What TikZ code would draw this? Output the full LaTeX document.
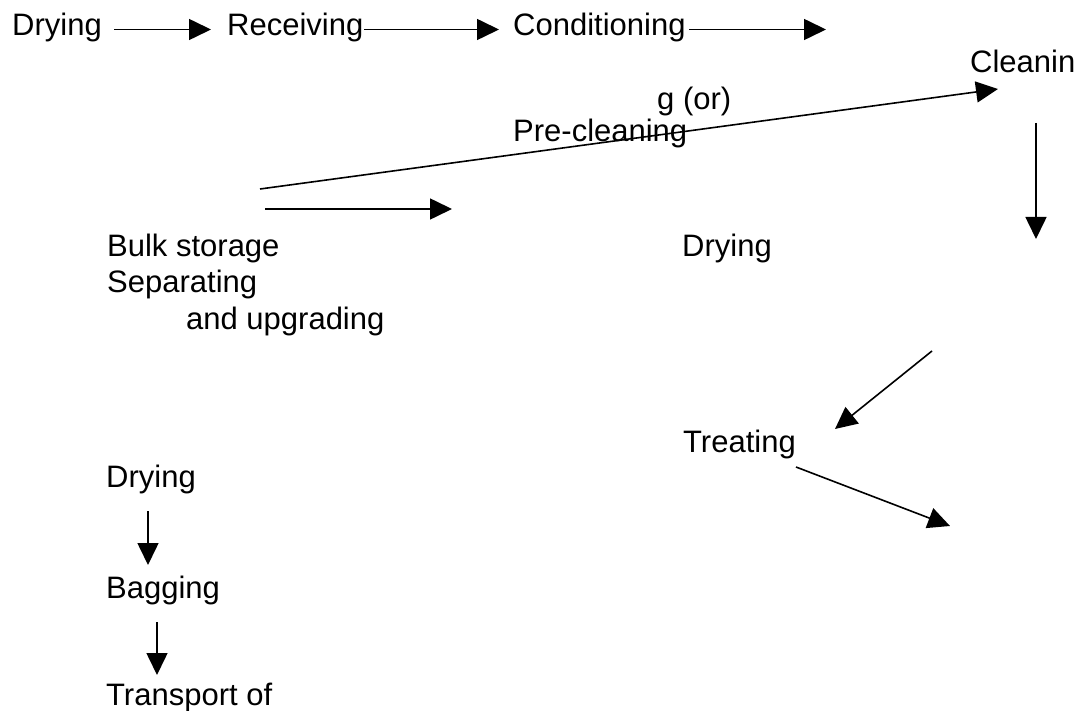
\documentclass[tikz,border=0pt]{standalone}
\usepackage{fontspec}
\setmainfont{Liberation Sans}
\usetikzlibrary{arrows.meta}
\begin{document}
\begin{tikzpicture}[x=1pt,y=-1pt,
  lbl/.style={anchor=base west, inner sep=0pt, font=\fontsize{31}{36}\selectfont},
  flow/.style={line width=1.6pt, -{Triangle[length=22pt,width=21pt]}}]
\useasboundingbox (0,0) rectangle (1080,711);

% labels of the processing stages
\node[lbl] (dry1)  at (12,36)   {Drying};
\node[lbl] (recv)  at (227,36)  {Receiving};
\node[lbl] (cond)  at (513,36)  {Conditioning};
\node[lbl] (clean) at (970,73)  {Cleanin};
\node[lbl] (gor)   at (657,110) {g (or)};
\node[lbl] (pre)   at (513,142) {Pre-cleaning};
\node[lbl] (bulk)  at (107,257) {Bulk storage};
\node[lbl] (dry2)  at (682,257) {Drying};
\node[lbl] (sep)   at (107,293) {Separating};
\node[lbl] (upg)   at (186,330) {and upgrading};
\node[lbl] (treat) at (683,453) {Treating};
\node[lbl] (dry3)  at (106,488) {Drying};
\node[lbl] (bag)   at (106,598) {Bagging};
\node[lbl] (trans) at (106,705) {Transport of};

% end points of the arrows
\coordinate (a1s) at (114,29.5);  \coordinate (a1e) at (211,29.5);
\coordinate (a2s) at (364,29.5);  \coordinate (a2e) at (499,29.5);
\coordinate (a3s) at (689,29.5);  \coordinate (a3e) at (826,29.5);
\coordinate (dgs) at (260,189);   \coordinate (dge) at (998,89);
\coordinate (vts) at (1036,123);  \coordinate (vte) at (1036,239);
\coordinate (hzs) at (265,209);   \coordinate (hze) at (452,209);
\coordinate (d1s) at (932,351);   \coordinate (d1e) at (835,429);
\coordinate (d2s) at (796,467);   \coordinate (d2e) at (950,526);
\coordinate (v1s) at (148,511);   \coordinate (v1e) at (148,565);
\coordinate (v2s) at (157,622);   \coordinate (v2e) at (157,675);

\draw[flow] (a1s) -- (a1e);
\draw[flow] (a2s) -- (a2e);
\draw[flow] (a3s) -- (a3e);
\draw[flow] (dgs) -- (dge);
\draw[flow] (vts) -- (vte);
\draw[flow] (hzs) -- (hze);
\draw[flow] (d1s) -- (d1e);
\draw[flow] (d2s) -- (d2e);
\draw[flow] (v1s) -- (v1e);
\draw[flow] (v2s) -- (v2e);
\end{tikzpicture}
\end{document}
